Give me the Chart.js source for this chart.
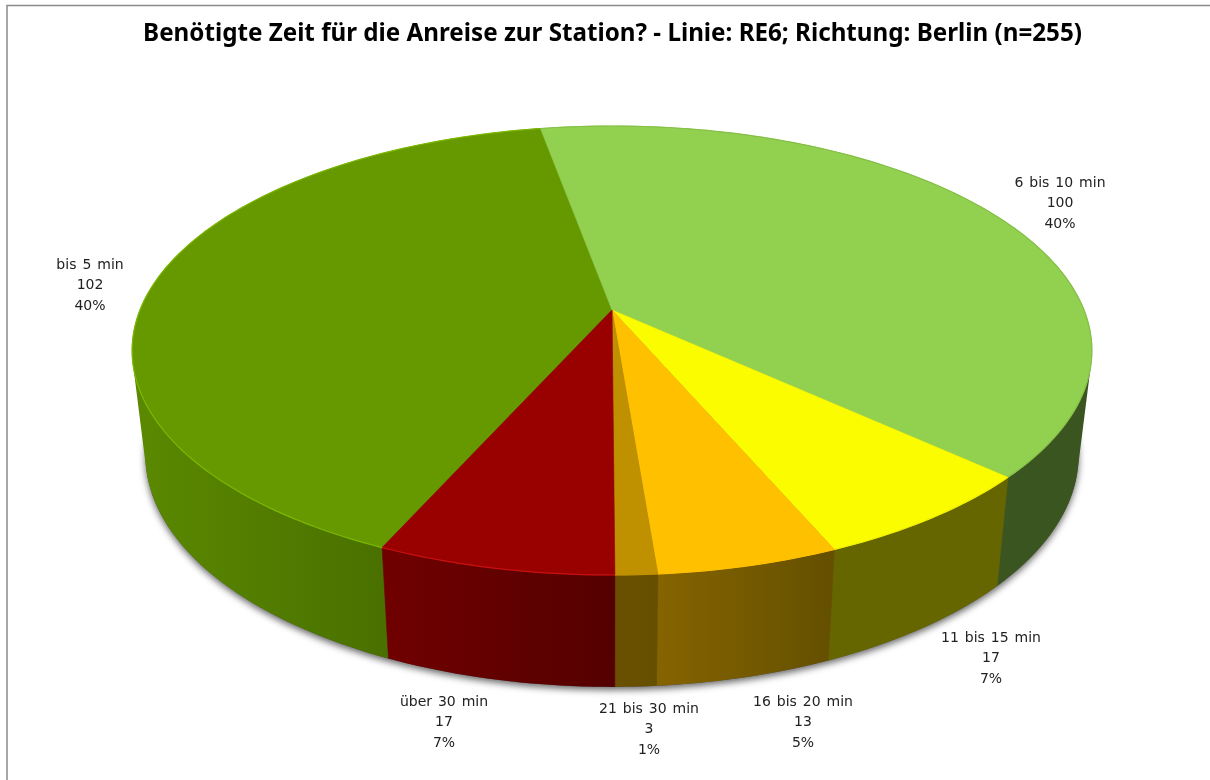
<!DOCTYPE html>
<html><head><meta charset="utf-8">
<style>html,body{margin:0;padding:0;background:#fff;overflow:hidden}canvas{display:block}</style>
<script src="https://cdn.jsdelivr.net/npm/chart.js@4"></script></head>
<body><div style="width:1210px;height:780px"><canvas id="c" width="1210" height="780"></canvas></div>
<script>
const categories = ["bis 5 min","6 bis 10 min","11 bis 15 min","16 bis 20 min","21 bis 30 min","über 30 min"];
const counts = [102,100,17,13,3,17];
const percents = ["40%","40%","7%","5%","1%","7%"];
const chartTitle = "Benötigte Zeit für die Anreise zur Station? - Linie: RE6; Richtung: Berlin (n=255)";
const topColors = ["#669900","#92d050","#fcfc00","#ffc000","#bf9000","#990000"];
const wallLeft  = ["#5a8800","#3a5520","#666600","#866400","#6a5000","#700000"];
const wallRight = ["#497000","#3a5520","#666600","#655000","#665000","#540000"];
const rimColors = ["#7cb800","#86c048","#f0f000","#ffc000","#bf9000","#c81010"];
const labelCentres = [[90,265],[1060,183],[991,638],[803,702],[649,709],[444,702]];

// Perspective of the tilted disc: top face and base of the cylinder
const topDisc  = {x:612, y:310,   a:472, b:217.2, k:0.1804};
const baseDisc = {x:612, y:413.1, a:459, b:224.4, k:0.1804};
const project = (d,ang)=>{const u=Math.cos(ang),v=Math.sin(ang),w=1-d.k*v;return [d.x+d.a*u/w,d.y+d.b*v/w];};
function arcPts(d,a0,a1){const n=Math.max(2,Math.ceil(Math.abs(a1-a0)/0.02)),p=[];
  for(let i=0;i<=n;i++)p.push(project(d,a0+(a1-a0)*i/n));return p;}
function trace(ctx,pts,start){pts.forEach((p,i)=>{(i===0&&start)?ctx.moveTo(p[0],p[1]):ctx.lineTo(p[0],p[1]);});}
function area(q){let s=0;q.forEach((p,i)=>{const r=q[(i+1)%q.length];s+=p[0]*r[1]-r[0]*p[1];});return s;}

const pie3d = {
  id:'pie3d',
  beforeDraw(chart){
    const ctx=chart.ctx;ctx.save();ctx.fillStyle='#fff';ctx.fillRect(0,0,1210,780);
    ctx.strokeStyle='#8a8a8a';ctx.lineWidth=1.5;ctx.beginPath();ctx.moveTo(7,780);ctx.lineTo(7,5.5);ctx.lineTo(1210,5.5);ctx.stroke();ctx.restore();
  },
  beforeDatasetDraw(chart){
    const ctx=chart.ctx, arcs=chart.getDatasetMeta(0).data;
    ctx.save();
    // soft shadow below the base
    ctx.save();ctx.shadowColor='rgba(0,0,0,0.6)';ctx.shadowBlur=7;ctx.shadowOffsetY=3;ctx.fillStyle='#555';
    ctx.beginPath();trace(ctx,arcPts(baseDisc,0,Math.PI*2),true);ctx.closePath();ctx.fill();ctx.restore();
    // side walls, built as strips so the silhouette joins rim and base
    arcs.forEach((el,i)=>{
      const {startAngle:a0,endAngle:a1}=el;
      const rim=arcPts(topDisc,a0,a1), base=arcPts(baseDisc,a0,a1);
      const n=rim.length-1, xs=[];
      for(let j=0;j<=n;j++){ if(Math.sin(a0+(a1-a0)*j/n)>0.1) xs.push(base[j][0]); }
      const g=ctx.createLinearGradient(Math.min(...xs),0,Math.max(...xs),0);
      g.addColorStop(0,wallLeft[i]);g.addColorStop(1,wallRight[i]);
      ctx.fillStyle=g;ctx.strokeStyle=g;ctx.lineWidth=0.6;
      ctx.beginPath();
      for(let j=0;j<n;j++){
        let q=[rim[j],rim[j+1],base[j+1],base[j]];
        if(area(q)<0) q=q.reverse();
        trace(ctx,q,true);ctx.closePath();
      }
      ctx.fill();
      ctx.beginPath();ctx.moveTo(rim[0][0],rim[0][1]);ctx.lineTo(base[0][0],base[0][1]);ctx.moveTo(rim[n][0],rim[n][1]);ctx.lineTo(base[n][0],base[n][1]);ctx.stroke();
    });
    // top face
    arcs.forEach((el,i)=>{
      const {startAngle:a0,endAngle:a1}=el;
      ctx.fillStyle=topColors[i];ctx.strokeStyle=topColors[i];ctx.lineWidth=0.6;
      ctx.beginPath();ctx.moveTo(topDisc.x,topDisc.y);trace(ctx,arcPts(topDisc,a0,a1),false);ctx.closePath();ctx.fill();ctx.stroke();
    });
    // bevel on the rim
    arcs.forEach((el,i)=>{
      ctx.strokeStyle=rimColors[i];ctx.lineWidth=1.2;
      ctx.beginPath();trace(ctx,arcPts(topDisc,el.startAngle,el.endAngle),true);ctx.stroke();
    });
    ctx.restore();
    return false;
  },
  afterDatasetsDraw(chart){
    const ctx=chart.ctx;ctx.save();
    ctx.font='14px "DejaVu Sans"';ctx.fillStyle='#222';ctx.textAlign='center';ctx.textBaseline='middle';
    ctx.wordSpacing='1.5px';
    categories.forEach((c,i)=>{
      const [x,y]=labelCentres[i];
      [c,String(counts[i]),percents[i]].forEach((t,j)=>ctx.fillText(t,x,y+j*20.6));
    });
    ctx.restore();
  }
};

new Chart(document.getElementById('c'),{
  type:'pie',
  data:{labels:categories,datasets:[{data:counts,backgroundColor:topColors,borderWidth:0}]},
  plugins:[pie3d],
  options:{
    responsive:false,animation:false,rotation:-156,
    layout:{padding:{left:15}},
    plugins:{
      legend:{display:false},tooltip:{enabled:false},
      title:{display:true,text:chartTitle,fullSize:false,color:'#000',font:{family:'"Noto Sans"',size:24.2,weight:'bold'},padding:{top:20,bottom:10}}
    }
  }
});
</script></body></html>
